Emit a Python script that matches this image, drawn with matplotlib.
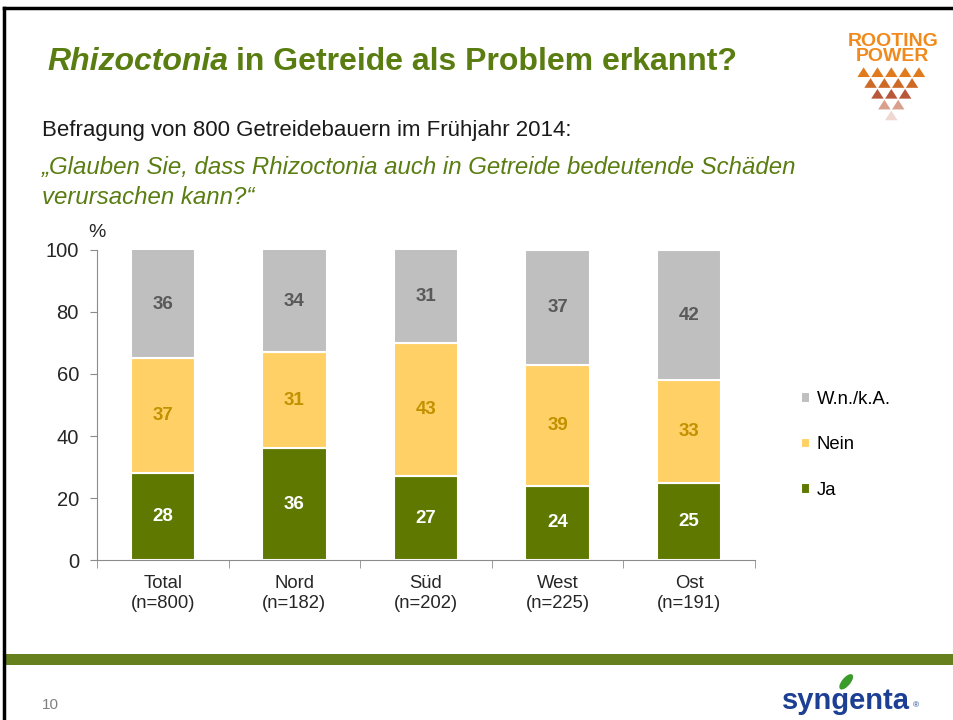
import numpy as np
import matplotlib
matplotlib.use("Agg")
from matplotlib import pyplot as plt
from matplotlib.patches import Rectangle, Polygon, Ellipse

plt.rcParams['font.family'] = ['Liberation Sans', 'DejaVu Sans']

# data
regions = ['Total\n(n=800)', 'Nord\n(n=182)', 'Süd\n(n=202)', 'West\n(n=225)', 'Ost\n(n=191)']
ja = [28, 36, 27, 24, 25]
nein = [37, 31, 43, 39, 33]
wnka = [36, 34, 31, 37, 42]

green = '#5f7800'
yellow = '#ffd066'
grey = '#bfbfbf'
title_green = '#5a7d12'

fig = plt.figure(figsize=(9.54, 7.2), dpi=100)

# slide frame
fig.add_artist(plt.Line2D([0.004, 1.0], [0.989, 0.989], color='black', lw=2.5))
fig.add_artist(plt.Line2D([0.004, 0.004], [0.0, 0.989], color='black', lw=2.5))
fig.add_artist(Rectangle((0.005, 0.077), 0.995, 0.014, color='#66801e', lw=0))

# title, two pieces (italic + normal bold)
t1 = fig.text(0.050, 0.914, 'Rhizoctonia', fontsize=23, fontweight='bold', style='italic',
              color=title_green, va='center')
fig.canvas.draw()
bb = t1.get_window_extent()
fig.text((bb.x1 + 7) / fig.bbox.width, 0.914, 'in Getreide als Problem erkannt?', fontsize=23,
         fontweight='bold', color=title_green, va='center')
fig.text(0.044, 0.819, 'Befragung von 800 Getreidebauern im Frühjahr 2014:', fontsize=16,
         color='#1a1a1a', va='center')
fig.text(0.044, 0.768, '\u201eGlauben Sie, dass Rhizoctonia auch in Getreide bedeutende Schäden',
         fontsize=17.3, style='italic', color=title_green, va='center')
fig.text(0.044, 0.726, 'verursachen kann?\u201c', fontsize=17.3, style='italic',
         color=title_green, va='center')

# rooting power logo
fig.text(0.936, 0.943, 'ROOTING', fontsize=14, fontweight='bold', color='#f08a1c',
         ha='center', va='center')
fig.text(0.935, 0.922, 'POWER', fontsize=14, fontweight='bold', color='#f08a1c',
         ha='center', va='center')
rows = [(5, 0.893, '#e07a1c'), (4, 0.878, '#cf6a26'), (3, 0.863, '#b8573a'),
        (2, 0.848, '#d9a090'), (1, 0.833, '#eed8d0')]
tw, th = 0.0145, 0.0135
for n, yb, c in rows:
    x0 = 0.935 - n * tw / 2
    for i in range(n):
        xl = x0 + i * tw
        fig.add_artist(Polygon([[xl, yb], [xl + tw * 0.9, yb], [xl + tw * 0.45, yb + th]],
                               closed=True, color=c, lw=0, transform=fig.transFigure))

# footer
fig.text(0.044, 0.021, '10', fontsize=11, color='#7f7f7f', va='center')
fig.text(0.887, 0.027, 'syngenta', fontsize=21, fontweight='bold', color='#1c3f94',
         ha='center', va='center')
fig.add_artist(Ellipse((0.887, 0.053), 0.008, 0.022, angle=-30, color='#3a9a2a',
                       transform=fig.transFigure))
fig.text(0.957, 0.020, '\u00ae', fontsize=6, color='#1c3f94', va='center')

# chart
ax = fig.add_axes([0.1017, 0.2222, 0.6897, 0.4306])
x = np.arange(len(regions))
w = 0.49
ja = np.array(ja)
nein = np.array(nein)
wnka = np.array(wnka)
b1 = ax.bar(x, ja, w, color=green, edgecolor='white', lw=1.5, label='Ja')
b2 = ax.bar(x, nein, w, bottom=ja, color=yellow, edgecolor='white', lw=1.5, label='Nein')
b3 = ax.bar(x, wnka, w, bottom=ja + nein, color=grey, edgecolor='white', lw=1.5, label='W.n./k.A.')

for i in range(len(x)):
    ax.text(x[i], ja[i] / 2, str(ja[i]), ha='center', va='center', fontsize=13.5,
            fontweight='bold', color='white')
    ax.text(x[i], ja[i] + nein[i] / 2, str(nein[i]), ha='center', va='center', fontsize=13.5,
            fontweight='bold', color='#c29100')
    top = min(ja[i] + nein[i] + wnka[i], 100)
    ax.text(x[i], (ja[i] + nein[i] + top) / 2, str(wnka[i]), ha='center', va='center',
            fontsize=13.5, fontweight='bold', color='#595959')

ax.set_xlim(-0.5, len(x) - 0.5)
ax.set_ylim(0, 100)
ax.set_yticks([0, 20, 40, 60, 80, 100])
ax.tick_params(axis='y', labelsize=14.5, colors='#262626', length=5, color='#8c8c8c', pad=8)
ax.set_xticks(x)
ax.set_xticklabels(regions, fontsize=13.3, color='#262626', linespacing=1.2)
ax.tick_params(axis='x', length=0, pad=11)
ax.set_xticks(np.arange(-0.5, len(x), 1), minor=True)
ax.tick_params(axis='x', which='minor', length=6, color='#8c8c8c')
for s in ['top', 'right']:
    ax.spines[s].set_visible(False)
for s in ['left', 'bottom']:
    ax.spines[s].set_color('#8c8c8c')
ax.text(-0.5, 103, '%', fontsize=14, color='#262626', ha='center', va='bottom')

ax.legend(handles=[b3, b2, b1], loc='center left', bbox_to_anchor=(0.822, 0.382),
          bbox_transform=fig.transFigure, frameon=False, fontsize=13.3,
          handlelength=0.5, handleheight=0.5, handletextpad=0.35, labelspacing=1.55)

fig.savefig('out.png', dpi=100)
